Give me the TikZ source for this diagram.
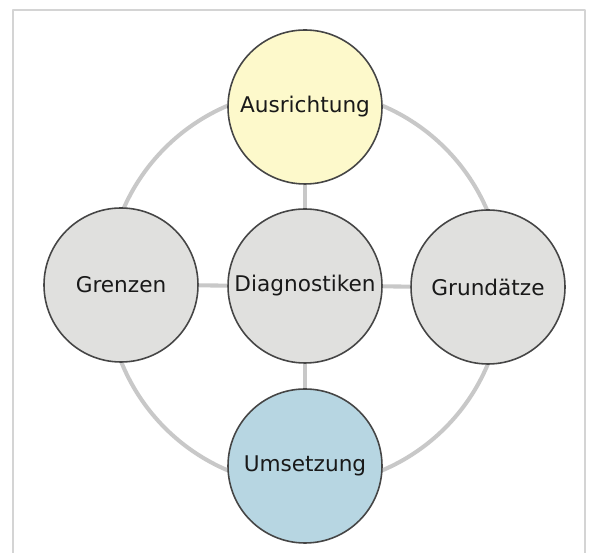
\documentclass[tikz,border=0pt]{standalone}
\usepackage{fontspec}
\setmainfont{DejaVu Sans}
\usepackage{pgf,tikz}
\usetikzlibrary{positioning}
\definecolor{ringgray}{HTML}{C8C8C8}
\definecolor{framegray}{HTML}{D4D4D4}
\definecolor{circgray}{HTML}{E0E0DE}
\definecolor{circedge}{HTML}{454545}
\definecolor{paleyellow}{HTML}{FDF9CB}
\definecolor{paleblue}{HTML}{B7D6E2}
\tikzset{
  bubble/.style={circle,draw=circedge,line width=0.9pt,fill=circgray,minimum size=3.08cm,
    inner sep=0pt,text=black!90,font=\fontsize{12.3}{14}\selectfont},
  link/.style={draw=ringgray,line width=2.3pt}
}

\begin{document}
\begin{tikzpicture}[line cap=round,line join=round,x=1.0cm,y=1.0cm]
\clip (0,0) rectangle (11.78,11.06);
\draw[framegray,line width=1pt] (0.26,-0.3) rectangle (11.70,10.86);
\draw[link] (6.10,5.30) circle (3.96cm);
\node[bubble] (diag) at (6.10,5.34) {Diagnostiken};
\node[bubble,fill=paleyellow] (ausr) at (6.10,8.92) {Ausrichtung};
\node[bubble] (grenz) at (2.42,5.36) {Grenzen};
\node[bubble] (grund) at (9.76,5.32) {Grundätze};
\node[bubble,fill=paleblue] (umset) at (6.10,1.74) {Umsetzung};
\draw[link,line cap=butt] (diag) -- (ausr);
\draw[link,line cap=butt] (diag) -- (grenz);
\draw[link,line cap=butt] (diag) -- (grund);
\draw[link,line cap=butt] (diag) -- (umset);
\end{tikzpicture}
\end{document}
